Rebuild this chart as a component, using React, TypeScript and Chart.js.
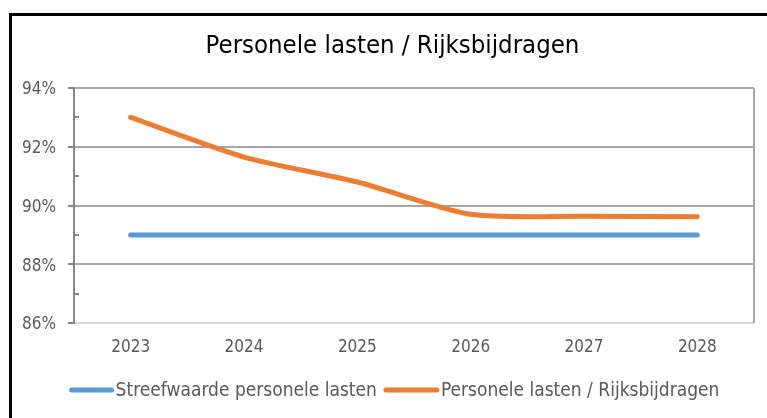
import React, { useEffect, useRef } from "react";
import { Chart, registerables } from "chart.js";

Chart.register(...registerables);

const categories = ["2023", "2024", "2025", "2026", "2027", "2028"];
const streefwaarde = [89.0, 89.0, 89.0, 89.0, 89.0, 89.0];
const personeleLasten = [93.0, 91.65, 90.8, 89.7, 89.63, 89.62];
const seriesLabels = ["Streefwaarde personele lasten", "Personele lasten / Rijksbijdragen"];
const titleText = "Personele lasten / Rijksbijdragen";
const yMin = 86;
const yMax = 94;
const minorTicks = [87, 89, 91, 93];

const FONT = "'DejaVu Sans Condensed', 'Liberation Sans', sans-serif";
const BLUE = "#5B9BD5";
const ORANGE = "#ED7D31";

const decorPlugin = {
  id: "decor",
  afterDraw(chart: any) {
    const ctx = chart.ctx as CanvasRenderingContext2D;
    const area = chart.chartArea;
    const yScale = chart.scales.y;
    ctx.save();
    // outer frame
    ctx.strokeStyle = "#000";
    ctx.lineWidth = 3;
    ctx.beginPath();
    ctx.moveTo(10.5, 430);
    ctx.lineTo(10.5, 14.5);
    ctx.lineTo(780, 14.5);
    ctx.stroke();
    // right border of plot area
    ctx.strokeStyle = "#a6a6a6";
    ctx.lineWidth = 2;
    ctx.beginPath();
    ctx.moveTo(area.right, area.top);
    ctx.lineTo(area.right, area.bottom);
    ctx.stroke();
    // minor ticks inside
    ctx.strokeStyle = "#868686";
    ctx.lineWidth = 2;
    for (const v of minorTicks) {
      const y = Math.round(yScale.getPixelForValue(v));
      ctx.beginPath();
      ctx.moveTo(area.left, y);
      ctx.lineTo(area.left + 5, y);
      ctx.stroke();
    }
    // title
    ctx.fillStyle = "#000";
    ctx.font = `25.5px ${FONT}`;
    ctx.textAlign = "center";
    ctx.textBaseline = "middle";
    ctx.fillText(titleText, 392.5, 46);
    // legend
    ctx.font = `19px ${FONT}`;
    ctx.textAlign = "left";
    const samples = [44, 55];
    const gapAfter = 2;
    const gapBetween = 7;
    const colors = [BLUE, ORANGE];
    const widths = seriesLabels.map((l) => ctx.measureText(l).width);
    let total = 0;
    widths.forEach((w, i) => {
      total += samples[i] + gapAfter + w + (i < widths.length - 1 ? gapBetween : 0);
    });
    let x = 394.5 - total / 2;
    const ly = 390;
    seriesLabels.forEach((l, i) => {
      ctx.strokeStyle = colors[i];
      ctx.lineWidth = 5;
      ctx.lineCap = "round";
      ctx.beginPath();
      ctx.moveTo(x + 2, ly);
      ctx.lineTo(x + samples[i] - 2, ly);
      ctx.stroke();
      ctx.fillStyle = "#595959";
      ctx.fillText(l, x + samples[i] + gapAfter, ly + 1);
      x += samples[i] + gapAfter + widths[i] + gapBetween;
    });
    ctx.restore();
  },
};

export default function App() {
  const ref = useRef<HTMLCanvasElement | null>(null);
  useEffect(() => {
    if (!ref.current) return;
    const chart = new Chart(ref.current, {
      type: "line",
      data: {
        labels: categories,
        datasets: [
          {
            label: seriesLabels[0],
            data: streefwaarde,
            borderColor: BLUE,
            backgroundColor: BLUE,
            borderWidth: 5,
            pointRadius: 0,
            borderCapStyle: "round",
            tension: 0.25,
          },
          {
            label: seriesLabels[1],
            data: personeleLasten,
            borderColor: ORANGE,
            backgroundColor: ORANGE,
            borderWidth: 5,
            pointRadius: 0,
            borderCapStyle: "round",
            tension: 0.25,
          },
        ],
      },
      options: {
        responsive: false,
        animation: false,
        devicePixelRatio: 1,
        layout: { padding: { left: 14, right: 13, top: 88, bottom: 55 } },
        plugins: {
          legend: { display: false },
          title: { display: false },
          tooltip: { enabled: false },
        },
        scales: {
          x: {
            type: "category",
            offset: true,
            grid: { display: false },
            border: { display: true, color: "#d9d9d9", width: 2 },
            ticks: {
              color: "#595959",
              font: { family: FONT, size: 17 },
              padding: 6,
              maxRotation: 0,
            },
            afterFit(scale: any) {
              scale.height = 40;
            },
          },
          y: {
            min: yMin,
            max: yMax,
            border: { display: true, color: "#868686", width: 2 },
            grid: {
              lineWidth: 2,
              tickLength: 6,
              color: (c: any) =>
                c.tick && c.tick.value % 2 === 0 && c.tick.value !== yMin ? "#a6a6a6" : "rgba(0,0,0,0)",
              tickColor: (c: any) =>
                c.tick && c.tick.value % 2 === 0 ? "#868686" : "rgba(0,0,0,0)",
            },
            ticks: {
              stepSize: 1,
              autoSkip: false,
              color: "#595959",
              font: { family: FONT, size: 17 },
              padding: 12,
              labelOffset: 2,
              callback: (v: any) => (Number(v) % 2 === 0 ? `${v}%` : ""),
            },
            afterFit(scale: any) {
              scale.width = 60;
            },
          },
        },
      },
      plugins: [decorPlugin],
    });
    return () => chart.destroy();
  }, []);
  return (
    <canvas
      ref={ref}
      width={767}
      height={418}
      style={{ position: "absolute", left: 0, top: 0, width: 767, height: 418 }}
    />
  );
}
